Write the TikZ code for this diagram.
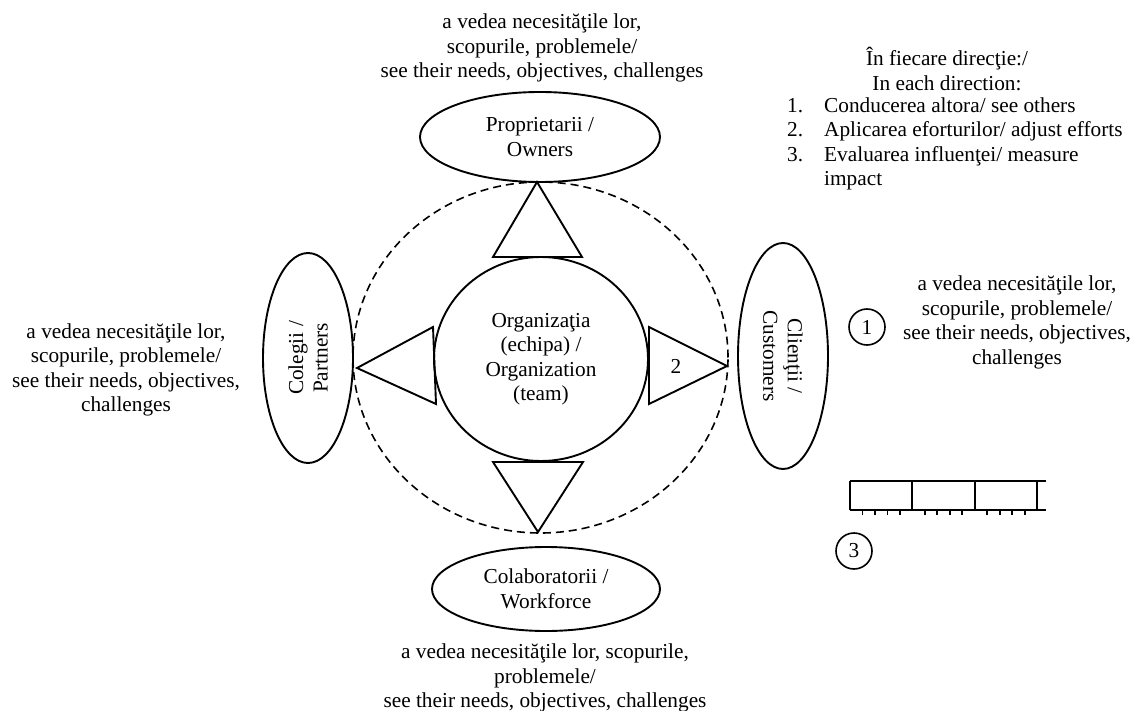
\documentclass[tikz,border=0pt]{standalone}
\usepackage{fontspec}
\setmainfont{Liberation Serif}
\usetikzlibrary{shapes.geometric}
\begin{document}
\begin{tikzpicture}[x=1pt,y=-1pt,
  fnt/.style={font=\fontsize{21.3}{24.5}\selectfont},
  txt/.style={fnt, align=center, inner sep=0pt},
  oval/.style={fnt, draw, ellipse, line width=1.9pt, inner sep=0pt, align=center},
  tri/.style={draw, line width=1.9pt, line join=miter},
  numc/.style={fnt, draw, circle, line width=1.6pt, minimum size=36pt, inner sep=0pt},
  ruler/.style={line width=1.9pt},
  halo/.style={dash pattern=on 8pt off 5pt, line width=1.6pt}
]
\useasboundingbox (0,0) rectangle (1140,711);

% dashed outer ellipse
\draw[halo] (540.5,357.5) ellipse [x radius=187.5pt, y radius=175.5pt];

% central organisation
\node[oval, minimum width=214pt, minimum height=204pt] (org) at (541,359)
  {Organizaţia\\(echipa) /\\Organization\\(team)};

% four stakeholders
\node[oval, minimum width=240pt, minimum height=90pt] (own) at (540,137)
  {Proprietarii /\\Owners};
\node[oval, minimum width=228pt, minimum height=84pt] (work) at (546,589)
  {Colaboratorii /\\Workforce};
\node[oval, rotate=90, minimum width=210pt, minimum height=90pt] (part) at (308,358)
  {Colegii /\\Partners};
\node[oval, rotate=-90, minimum width=226pt, minimum height=90pt] (cust) at (783,356)
  {Clienţii /\\Customers};

% triangles (directions)
\draw[tri] (537,182) -- (582,257) -- (493,257) -- cycle;
\draw[tri] (357,368) -- (433,327) -- (436,404) -- cycle;
\draw[tri] (727,366) -- (649,327) -- (649,404) -- cycle;
\draw[tri] (538,532) -- (583,462) -- (493,462) -- cycle;
\node[txt] (n2) at (676,366) {2};

% descriptive texts
\node[txt] (ttop) at (542,48)
  {a vedea necesităţile lor,\\scopurile, problemele/\\see their needs, objectives, challenges};
\node[txt] (tleft) at (126,370)
  {a vedea necesităţile lor,\\scopurile, problemele/\\see their needs, objectives,\\challenges};
\node[txt] (tright) at (1017,322.5)
  {a vedea necesităţile lor,\\scopurile, problemele/\\see their needs, objectives,\\challenges};
\node[txt] (tbot) at (545,678)
  {a vedea necesităţile lor, scopurile,\\problemele/\\see their needs, objectives, challenges};

% numbered circles
\node[numc] (c1) at (867,327) {1};
\node[numc] (c3) at (854,551) {3};

% list
\node[txt] (hdr) at (947,69) {În fiecare direcţie:/\\In each direction:};
\node[fnt, inner sep=0pt, anchor=north west] (list) at (787,95)
  {\begin{tabular}{@{}p{37pt}@{}l@{}}
   1.&Conducerea altora/ see others\\
   2.&Aplicarea eforturilor/ adjust efforts\\
   3.&Evaluarea influenţei/ measure\\
     &impact
   \end{tabular}};

% ruler
\draw[ruler] (850,481) -- (1046,481);
\draw[ruler] (850,510) -- (1046,510);
\foreach \x in {850,912.4,974.8,1037.2} \draw[ruler] (\x,481) -- (\x,510);
\foreach \s in {850,912.4,974.8} \foreach \k in {1,...,4}
  \draw[ruler] (\s+12.48*\k,510) -- (\s+12.48*\k,515);
\end{tikzpicture}
\end{document}
